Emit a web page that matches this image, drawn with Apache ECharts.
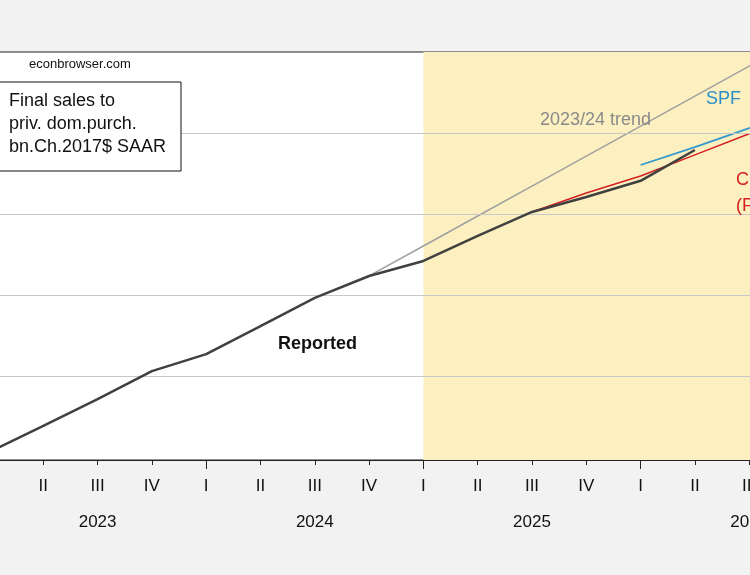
<!DOCTYPE html>
<html><head><meta charset="utf-8">
<script src="https://cdn.jsdelivr.net/npm/echarts@6/dist/echarts.min.js"></script>
<style>html,body{margin:0;background:#f2f2f2}#c{width:750px;height:575px}</style>
</head><body><div id="c"></div>
<script>
const categories=['2023Q1','2023Q2','2023Q3','2023Q4','2024Q1','2024Q2','2024Q3','2024Q4','2025Q1','2025Q2','2025Q3','2025Q4','2026Q1','2026Q2','2026Q3','2026Q4'];
const quarterLabels=['I','II','III','IV'];
const years=['2023','2024','2025','2026'];
const reported=[20212,20277,20343,20412,20454,20523,20593,20647,20684,20746,20805,20842,20882,20958,null,null];
const trend=[null,null,null,null,null,null,null,20647,20721,20795,20869,20943,21017,21091,21165,21239];
const cbo=[null,null,null,null,null,null,null,null,null,null,20805,20852,20894,20946,20998,21045];
const spf=[null,null,null,null,null,null,null,null,null,null,null,null,20921,20965,21012,21055];
const gridValues=[20400,20600,20800,21000];
const F='Liberation Sans, Arial, sans-serif';
const ch=echarts.init(document.getElementById('c'));
function ln(data,color,width,z){return {type:'line',data,symbol:'none',lineStyle:{color,width},itemStyle:{color},z,animation:false};}
ch.setOption({
backgroundColor:'#f2f2f2',
grid:{left:-11,width:814.5,top:52,bottom:115,outerBoundsMode:'none',containLabel:false,show:true,backgroundColor:'#fff',borderColor:'#222',borderWidth:1},
xAxis:[{type:'category',data:categories,boundaryGap:false,
 axisLine:{lineStyle:{color:'#222',width:1}},
 axisTick:{length:5,lineStyle:{color:'#222'}},
 axisLabel:{interval:0,color:'#111',fontFamily:F,fontSize:17,margin:17,lineHeight:18,
  formatter:(v,i)=>{const q=quarterLabels[i%4];return i%4===2?q+'\n\n'+years[Math.floor(i/4)]:q;}}},
 {type:'category',data:categories,boundaryGap:false,position:'bottom',axisLine:{show:false},
  axisTick:{length:9,interval:(i)=>i%4===0,lineStyle:{color:'#222'}},axisLabel:{show:false}}],
yAxis:{type:'value',min:20192.6,max:21200,show:false,splitLine:{show:false}},
series:[
 Object.assign(ln(reported,'#404040',2.5,5),{markArea:{silent:true,itemStyle:{color:'#fcf0c0'},data:[[{xAxis:'2025Q1'},{xAxis:'2026Q4'}]]},
  markLine:{silent:true,symbol:'none',label:{show:false},lineStyle:{color:'#c8c8c8',type:'solid',width:1},data:gridValues.map(v=>({yAxis:v}))}}),
 ln(trend,'#a0a0a0',1.5,3),
 ln(cbo,'#d42020',1.5,4),
 ln(spf,'#3399cc',1.8,4)
],
graphic:[
 {type:'text',z:100,x:29,y:58,style:{text:'econbrowser.com',font:'13px '+F,fill:'#111'}},
 {type:'rect',z:100,shape:{x:-5,y:82,width:186,height:89},style:{fill:'#fff',stroke:'#111',lineWidth:1}},
 {type:'text',z:101,x:9,y:90,style:{text:'Final sales to\npriv. dom.purch.\nbn.Ch.2017$ SAAR',font:'18px '+F,lineHeight:23,fill:'#111'}},
 {type:'text',z:100,x:278,y:335,style:{text:'Reported',font:'bold 18px '+F,fill:'#111'}},
 {type:'text',z:100,x:540,y:111,style:{text:'2023/24 trend',font:'18px '+F,fill:'#8a8a8a'}},
 {type:'text',z:100,x:706,y:90,style:{text:'SPF',font:'18px '+F,fill:'#2a8fc8'}},
 {type:'text',z:100,x:736,y:167,style:{text:'CBO\n(Feb)',font:'18px '+F,lineHeight:26,fill:'#d42020'}}
]});
</script></body></html>
